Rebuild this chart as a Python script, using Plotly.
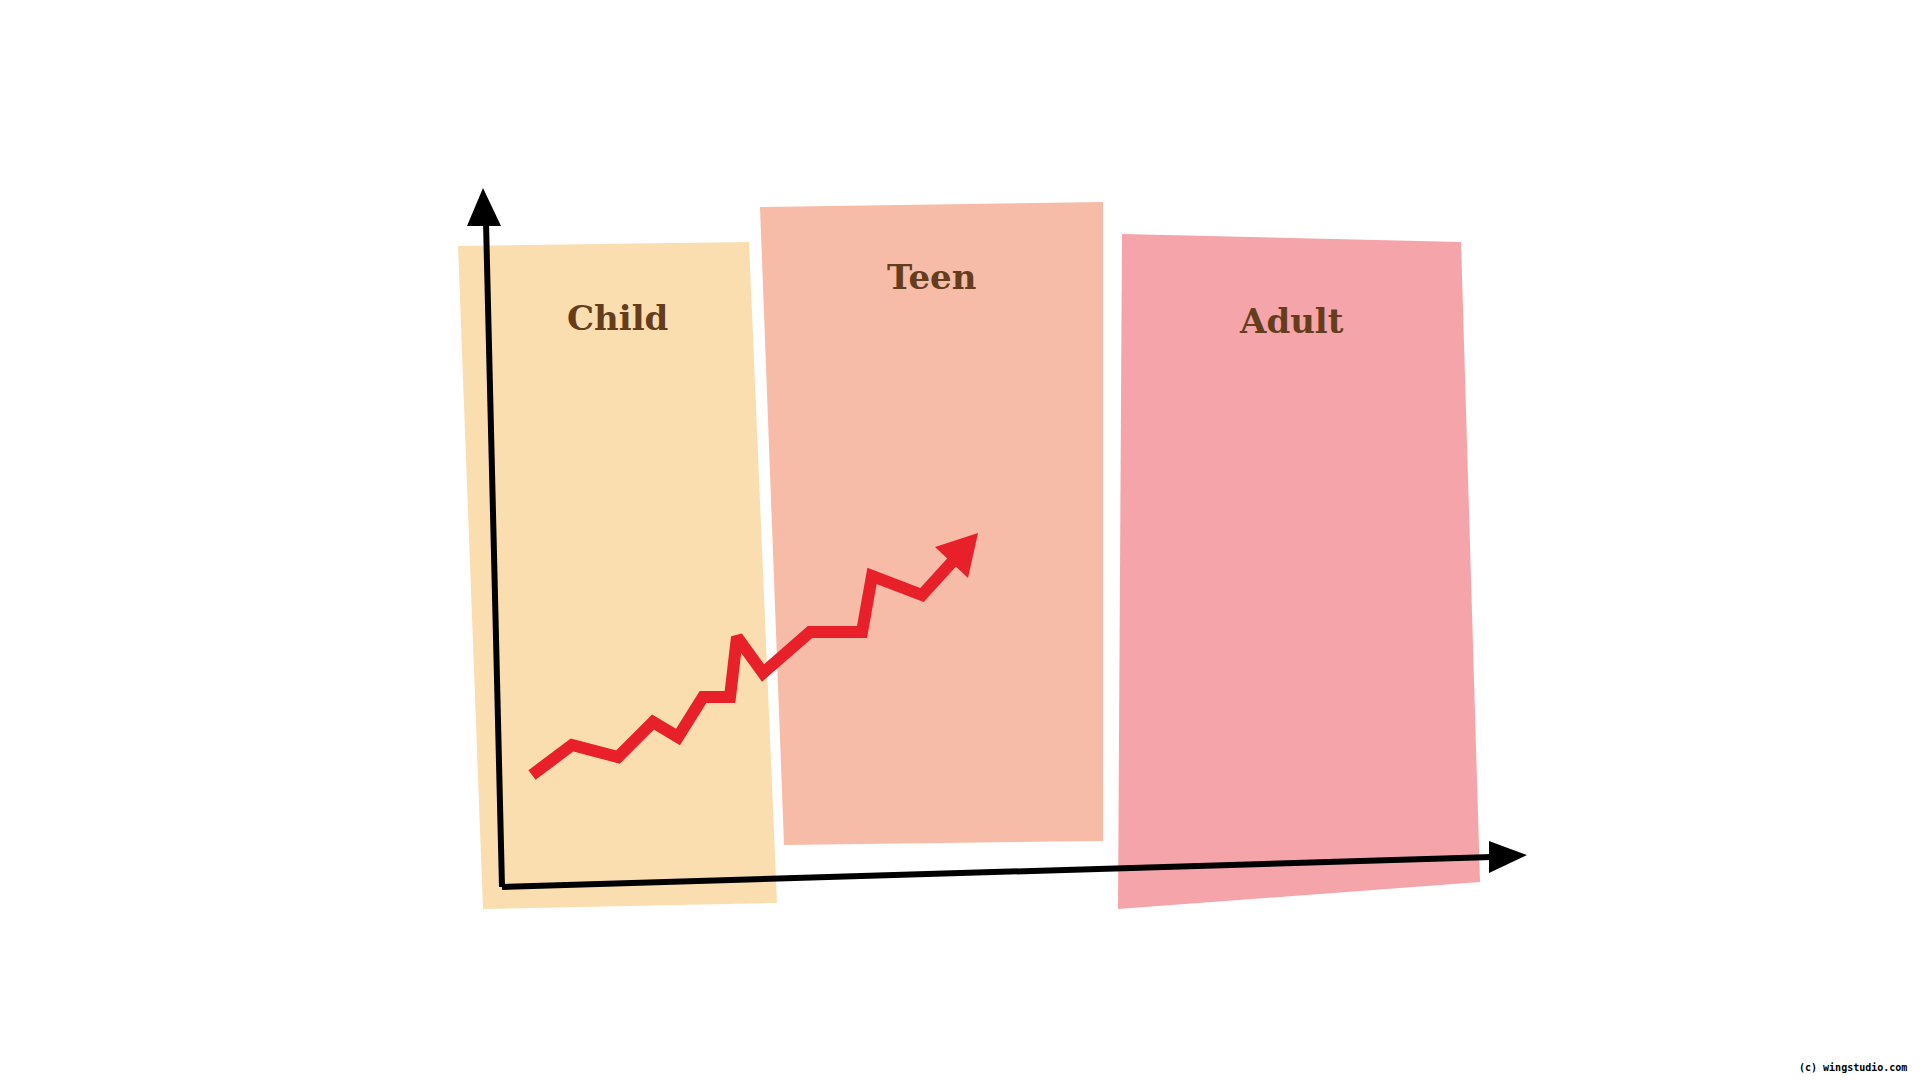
import plotly.graph_objects as go

# Stage panels (quadrilateral corners, picture pixel coordinates)
stages = ["Child", "Teen", "Adult"]
stage_colors = ["#FBDEB0", "#F7BCA8", "#F5A5AA"]
stage_x = [[458, 749, 777, 483], [760, 1103, 1103, 784], [1122, 1461, 1480, 1118]]
stage_y = [[246, 242, 903, 909], [207, 202, 841, 845], [234, 242, 882, 909]]
label_x = [617, 931, 1291]
label_y = [318, 277, 321]

# Growth line
growth_x = [532, 572, 618, 653, 678, 703, 730, 737, 763, 810, 862, 872, 922, 952]
growth_y = [775, 745, 757, 722, 737, 697, 697, 637, 673, 632, 632, 576, 595, 562]
growth_head_x = [978, 935, 968]
growth_head_y = [533, 547, 578]

# Axes
yaxis_x = [502, 486]
yaxis_y = [887, 222]
yhead_x = [483, 467, 501]
yhead_y = [188, 226, 226]
xaxis_x = [502, 1492]
xaxis_y = [887, 857]
xhead_x = [1527, 1489, 1489]
xhead_y = [855, 841, 873]

fig = go.Figure()

for name, col, xs, ys in zip(stages, stage_colors, stage_x, stage_y):
    fig.add_trace(go.Scatter(x=xs + [xs[0]], y=ys + [ys[0]], mode="lines", fill="toself",
                             fillcolor=col, line=dict(width=0, color=col), hoverinfo="skip"))

fig.add_trace(go.Scatter(x=growth_x, y=growth_y, mode="lines",
                         line=dict(color="#E8202A", width=12), hoverinfo="skip"))
fig.add_trace(go.Scatter(x=growth_head_x + [growth_head_x[0]], y=growth_head_y + [growth_head_y[0]],
                         mode="lines", fill="toself", fillcolor="#E8202A",
                         line=dict(width=0, color="#E8202A"), hoverinfo="skip"))

for lx, ly, hx, hy in [(yaxis_x, yaxis_y, yhead_x, yhead_y), (xaxis_x, xaxis_y, xhead_x, xhead_y)]:
    fig.add_trace(go.Scatter(x=lx, y=ly, mode="lines", line=dict(color="black", width=6), hoverinfo="skip"))
    fig.add_trace(go.Scatter(x=hx + [hx[0]], y=hy + [hy[0]], mode="lines", fill="toself",
                             fillcolor="black", line=dict(width=0, color="black"), hoverinfo="skip"))

for name, tx, ty in zip(stages, label_x, label_y):
    fig.add_annotation(x=tx, y=ty, text="<b>%s</b>" % name, showarrow=False,
                       font=dict(family="DejaVu Serif", size=34, color="#643D1C"))

fig.add_annotation(x=1853, y=1067, text="<b>(c) wingstudio.com</b>", showarrow=False,
                   font=dict(family="DejaVu Sans Mono", size=10, color="black"))

fig.update_layout(
    width=1920, height=1080, margin=dict(l=0, r=0, t=0, b=0),
    paper_bgcolor="white", plot_bgcolor="white", showlegend=False,
    xaxis=dict(range=[0, 1920], visible=False, fixedrange=True),
    yaxis=dict(range=[1080, 0], visible=False, fixedrange=True),
)

fig.write_html("out.html", config={"displayModeBar": False},
               post_script="document.body.style.margin='0';")
